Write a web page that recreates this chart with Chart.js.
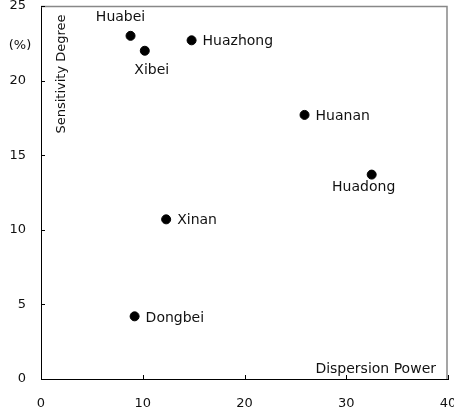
<!DOCTYPE html>
<html>
<head>
<meta charset="utf-8">
<script src="https://cdn.jsdelivr.net/npm/chart.js@4/dist/chart.umd.min.js"></script>
<style>
  html, body { margin: 0; padding: 0; background: #fff; }
  #wrap { width: 454px; height: 414px; }
</style>
</head>
<body>
<div id="wrap"><canvas id="c"></canvas></div>
<script>
// donnees
const regions = ['Huabei', 'Xibei', 'Huazhong', 'Huanan', 'Huadong', 'Xinan', 'Dongbei'];
const dispersion = [8.8, 10.2, 14.8, 25.9, 32.5, 12.3, 9.2];
const sensitivity = [23.0, 22.0, 22.7, 17.7, 13.7, 10.7, 4.2];
const xTicks = [0, 10, 20, 30, 40];
const yTicks = [0, 5, 10, 15, 20, 25];

// placement des etiquettes (style uniquement)
const labelPlace = [
    { dx: -10, dy: -18, align: 'center' },
    { dx: 7, dy: 20, align: 'center' },
    { dx: 11, dy: 1, align: 'left' },
    { dx: 11, dy: 1, align: 'left' },
    { dx: -8, dy: 13, align: 'center' },
    { dx: 11, dy: 1, align: 'left' },
    { dx: 11, dy: 2, align: 'left' }
];

const FONT = '"DejaVu Sans", sans-serif';

// pas de marge automatique pour les libelles qui debordent
const noOverflow = axis => {
    axis.paddingLeft = 0;
    axis.paddingRight = 0;
    axis.paddingTop = 0;
    axis.paddingBottom = 0;
};

/**
 * Cadre, graduations interieures, titres et etiquettes des points
 */
const decorPlugin = {
    id: 'decor',
    afterDatasetsDraw(chart) {
        const { ctx, chartArea: a, scales } = chart;
        ctx.save();

        // cadre haut / droite en gris
        ctx.strokeStyle = '#888';
        ctx.lineWidth = 1.5;
        ctx.beginPath();
        ctx.moveTo(a.left, a.top + 0.5);
        ctx.lineTo(a.right - 1, a.top + 0.5);
        ctx.lineTo(a.right - 1, a.bottom);
        ctx.stroke();

        // graduations vers l'interieur
        ctx.strokeStyle = '#000';
        ctx.lineWidth = 1;
        ctx.beginPath();
        xTicks.forEach(v => {
            const px = Math.round(scales.x.getPixelForValue(v)) + 0.5;
            ctx.moveTo(px, a.bottom);
            ctx.lineTo(px, a.bottom - 4);
        });
        yTicks.forEach(v => {
            const py = Math.round(scales.y.getPixelForValue(v)) + 0.5;
            ctx.moveTo(a.left, py);
            ctx.lineTo(a.left + 4, py);
        });
        ctx.stroke();

        // titres des axes
        ctx.fillStyle = '#111';
        ctx.font = '13px ' + FONT;
        ctx.textBaseline = 'middle';
        ctx.textAlign = 'center';
        ctx.fillText('(%)', a.left - 21, a.top + 40);

        ctx.save();
        ctx.translate(a.left + 21, a.top + 68);
        ctx.rotate(-Math.PI / 2);
        ctx.font = '13px ' + FONT;
        ctx.fillText('Sensitivity Degree', 0, 0);
        ctx.restore();

        ctx.font = '14px ' + FONT;
        ctx.textAlign = 'right';
        ctx.fillText('Dispersion Power', a.right - 12, a.bottom - 10);

        // etiquettes des points
        const meta = chart.getDatasetMeta(0);
        meta.data.forEach((pt, i) => {
            const p = labelPlace[i];
            ctx.textAlign = p.align;
            ctx.fillText(regions[i], pt.x + p.dx, pt.y + p.dy);
        });

        ctx.restore();
    }
};

const ctx = document.getElementById('c').getContext('2d');
new Chart(ctx, {
    type: 'scatter',
    data: {
        datasets: [{
            label: 'Regions',
            data: dispersion.map((x, i) => ({ x: x, y: sensitivity[i] })),
            backgroundColor: '#000',
            borderColor: '#000',
            pointRadius: 4.5,
            pointHoverRadius: 4.5
        }]
    },
    options: {
        responsive: true,
        maintainAspectRatio: false,
        animation: false,
        layout: { padding: { top: 6, right: 6, left: 0, bottom: 0 } },
        plugins: {
            legend: { display: false },
            tooltip: { enabled: false }
        },
        scales: {
            x: {
                type: 'linear',
                min: 0,
                max: 40,
                afterBuildTicks: axis => { axis.ticks = xTicks.map(v => ({ value: v })); },
                afterFit: axis => { axis.height = 35; noOverflow(axis); },
                grid: { display: false, drawTicks: false },
                border: { display: true, color: '#000', width: 1 },
                ticks: {
                    color: '#111',
                    padding: 17,
                    maxRotation: 0,
                    font: { family: FONT, size: 13 }
                }
            },
            y: {
                type: 'linear',
                min: 0,
                max: 25,
                afterBuildTicks: axis => { axis.ticks = yTicks.map(v => ({ value: v })); },
                afterFit: axis => { axis.width = 41; noOverflow(axis); },
                grid: { display: false, drawTicks: false },
                border: { display: true, color: '#000', width: 1 },
                ticks: {
                    color: '#111',
                    padding: 15,
                    font: { family: FONT, size: 13 }
                }
            }
        }
    },
    plugins: [decorPlugin]
});
</script>
</body>
</html>
